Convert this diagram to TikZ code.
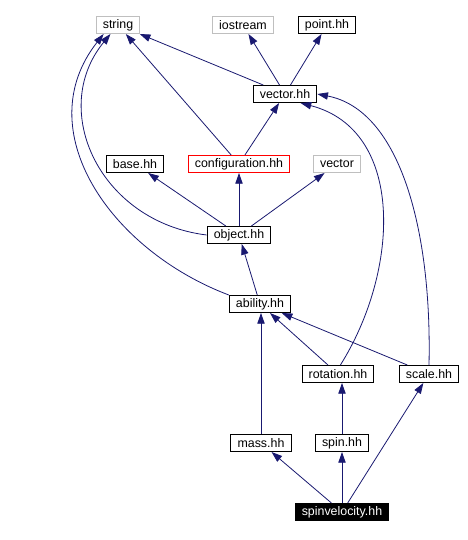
\documentclass[tikz,border=0pt]{standalone}
\usepackage{fontspec}
\setmainfont{Liberation Sans}
\usetikzlibrary{arrows.meta}
\definecolor{edgeblue}{RGB}{25,25,112}
\definecolor{sysgray}{RGB}{191,191,191}
\tikzset{
  hdr/.style={draw=black,line width=0.75pt,inner xsep=5pt,inner ysep=0pt,
    minimum height=12.75pt,font=\fontsize{9.3}{11}\selectfont},
  syshdr/.style={hdr,draw=sysgray},
  dep/.style={draw=edgeblue,line width=0.6pt,-{Triangle[length=8pt,width=5.5pt]}}
}

\begin{document}
\begin{tikzpicture}[x=0.75pt,y=-0.75pt]
  \useasboundingbox (0,0) rectangle (468,540);
  % top row: headers that vector.hh pulls in
  \node[syshdr] (string)   at (118,25) {string};
  \node[syshdr] (iostream) at (243,25) {iostream};
  \node[hdr]    (point)    at (327,25) {point.hh};
  \node[hdr]    (vecthh)   at (285,94) {vector.hh};
  \node[hdr]    (base)     at (135,164) {base.hh};
  \node[hdr,draw=red] (config) at (239,164) {configuration.hh};
  \node[syshdr] (vector)   at (337,164) {vector};
  \node[hdr]    (object)   at (239,235) {object.hh};
  \node[hdr]    (ability)  at (260,304) {ability.hh};
  \node[hdr]    (rotation) at (338,374) {rotation.hh};
  \node[hdr]    (scale)    at (429,374) {scale.hh};
  \node[hdr]    (mass)     at (261,443) {mass.hh};
  \node[hdr]    (spin)     at (342,443) {spin.hh};
  \node[hdr,fill=black,text=white] (spinvel) at (342,512) {spinvelocity.hh};

  % include edges
  \draw[dep] (vecthh) -- (string);
  \draw[dep] (vecthh) -- (iostream);
  \draw[dep] (vecthh) -- (point);
  \draw[dep] (config) -- (string);
  \draw[dep] (config) -- (vecthh);
  \draw[dep] (object) -- (base);
  \draw[dep] (object) -- (config);
  \draw[dep] (object) -- (vector);
  \draw[dep] (object.west) .. controls (100,222) and (48,110) .. (string.230);
  \draw[dep] (ability) -- (object);
  \draw[dep] (ability.north west) .. controls (110,250) and (28,130) .. (string.212);
  \draw[dep] (rotation) -- (ability);
  \draw[dep] (rotation.75) .. controls (400,270) and (405,130) .. (vecthh.330);
  \draw[dep] (scale) -- (ability);
  \draw[dep] (scale.north) .. controls (432,230) and (400,110) .. (vecthh.east);
  \draw[dep] (mass) -- (mass |- ability.south);
  \draw[dep] (spin) -- (spin |- rotation.south);
  \draw[dep] (spinvel) -- (mass);
  \draw[dep] (spinvel) -- (spin);
  \draw[dep] (spinvel) -- (scale);
\end{tikzpicture}
\end{document}
